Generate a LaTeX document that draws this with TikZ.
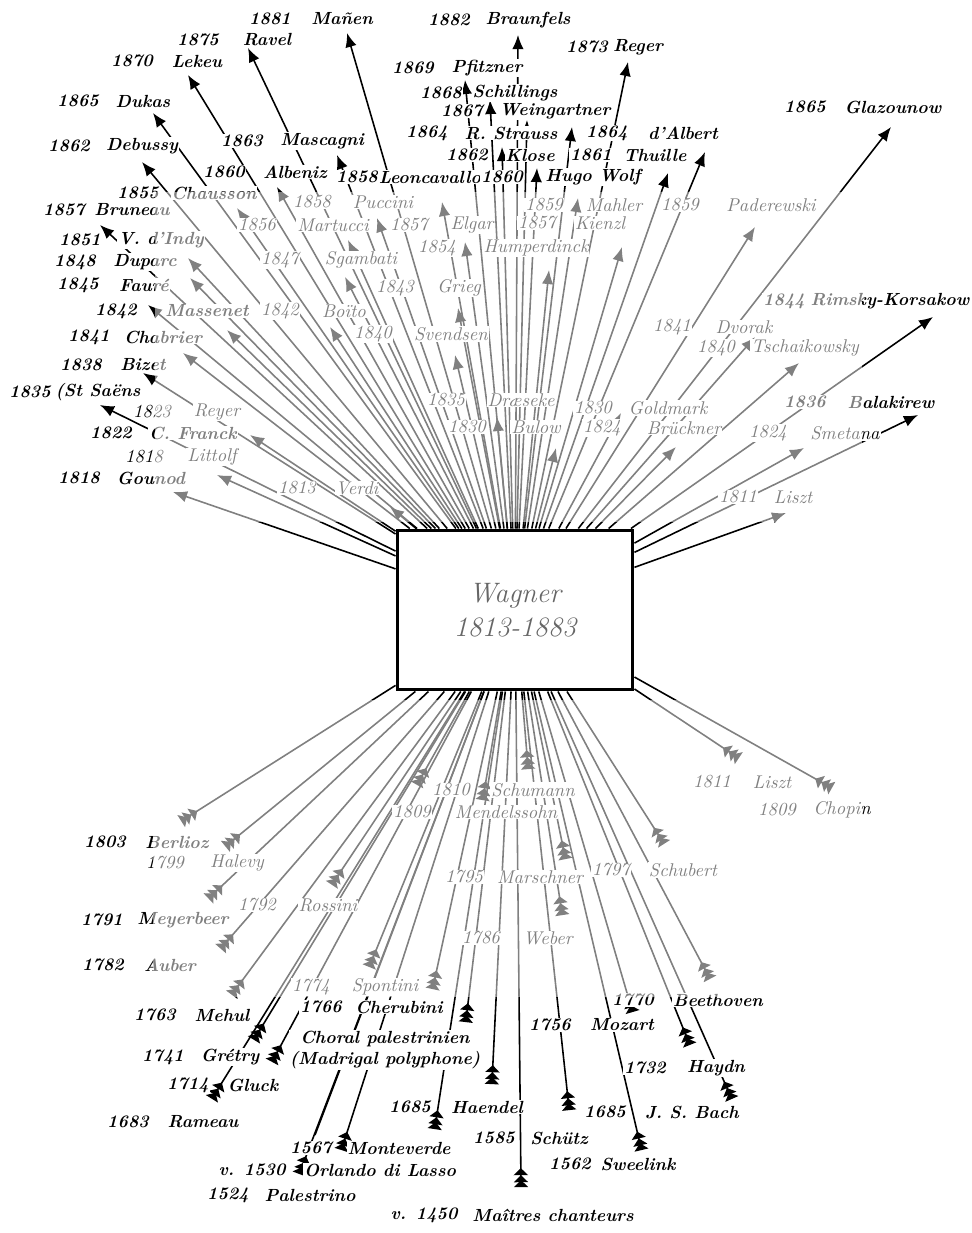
\documentclass[tikz,border=0pt]{standalone}
\usepackage{tikz}
\usetikzlibrary{arrows.meta,backgrounds}

\begin{document}
\begin{tikzpicture}[x=0.02cm,y=-0.02cm,
    lab/.style={fill=white,inner sep=0.5pt,font=\bfseries\itshape\fontsize{10}{12}\selectfont},
    flab/.style={fill=white,inner sep=0.5pt,font=\itshape\fontsize{10.5}{12}\selectfont},
    ray/.style={line width=0.9pt,-{Latex[length=8pt,width=6.5pt]}},
    root/.style={line width=0.9pt,{Triangle[reversed,length=4pt,width=8pt,sep=-1.2pt]Triangle[reversed,length=4pt,width=8pt,sep=-1.2pt]Triangle[reversed,length=4pt,width=8pt]}-},
    fade/.style={fill=white,opacity=0.5}]
  \useasboundingbox (0,0) rectangle (971,1233);

  \node[draw,line width=1.7pt,minimum width=4.72cm,minimum height=3.2cm,
        align=center,text=black!60,font=\itshape\fontsize{16}{19}\selectfont]
        (wagner) at (515,610) {Wagner\\1813-1883};

  % heirs, above the box
  \foreach \n/\a/\b/\y/\yr/\nm in {
      manen/270/342/19/1881/Mañen, ravel/198/267/40/1875/Ravel,
      lekeu/132/197/61/1870/Lekeu, dukas/78/143/101/1865/Dukas,
      debussy/69/142/146/1862/Debussy, mascagni/242/322/141/1863/Mascagni,
      albeniz/224/295/172/1860/Albeniz, leoncavallo/357/430/177/1858/Leoncavallo,
      chausson/138/214/193/1855/Chausson, bruneau/64/132/210/1857/Bruneau,
      vdindy/80/161/240/1851/V. d'Indy, duparc/75/145/262/1848/Duparc,
      faure/78/144/285/1845/Fauré, massenet/116/207/311/1842/Massenet,
      chabrier/89/163/337/1841/Chabrier, bizet/81/143/365/1838/Bizet,
      saens/30/98/392/1835/(St Saëns, franck/111/193/433/1822/C. Franck,
      gounod/79/151/478/1818/Gounod, braunfels/449/528/20/1882/Braunfels,
      reger/587/638/47/1873/Reger, pfitzner/413/487/68/1869/Pfitzner,
      schillings/441/515/93/1868/Schillings, weingartner/462/555/111/1867/Weingartner,
      strauss/427/511/133/1864/R. Strauss, dalbert/607/683/133/1864/d'Albert,
      klose/467/530/155/1862/Klose, thuille/591/655/155/1861/Thuille,
      hugowolf/502/593/177/1860/Hugo Wolf, glazounow/805/893/107/1865/Glazounow,
      rimsky/784/890/301/1844/Rimsky-Korsakow, balakirew/805/891/402/1836/Balakirew}{
    \node[lab] (\n-yr) at (\a,\y) {\yr};
    \node[lab] (\n) at (\b,\y) {\nm};}
  \foreach \n/\a/\b/\y/\yr/\nm in {
      puccini/312/383/202/1858/Puccini, martucci/257/333/225/1856/Martucci,
      elgar/409/472/225/1857/Elgar, humperdinck/437/536/248/1854/Humperdinck,
      sgambati/280/361/260/1847/Sgambati, grieg/395/459/288/1843/Grieg,
      boito/280/344/311/1842/Boïto, svendsen/373/451/334/1840/Svendsen,
      reyer/152/217/412/1823/Reyer, littolf/144/212/457/1818/Littolf,
      verdi/297/357/488/1813/Verdi, draeseke/446/521/400/1835/Dræseke,
      bulow/467/536/427/1830/Bulow, goldmark/593/668/408/1830/Goldmark,
      bruckner/602/684/428/1824/Brückner, dvorak/672/744/327/1841/Dvorak,
      tschaikowsky/716/805/348/1840/Tschaikowsky, smetana/768/845/433/1824/Smetana,
      liszt/738/793/497/1811/Liszt, paderewski/680/771/205/1859/Paderewski,
      mahler/544/614/205/1859/Mahler, kienzl/537/600/223/1857/Kienzl}{
    \node[flab] (\n-yr) at (\a,\y) {\yr};
    \node[flab] (\n) at (\b,\y) {\nm};}

  % sources, below the box
  \foreach \n/\a/\b/\y/\yr/\nm in {
      berlioz/105/177/842/1803/Berlioz, meyerbeer/102/183/920/1791/Meyerbeer,
      auber/103/170/965/1782/Auber, mehul/155/222/1015/1763/Mehul,
      gretry/163/230/1057/1741/Grétry, gluck/188/253/1085/1714/Gluck,
      rameau/128/203/1122/1683/Rameau, cherubini/321/399/1007/1766/Cherubini,
      monteverde/311/399/1148/1567/Monteverde, lasso/252/380/1170/v. 1530/Orlando di Lasso,
      palestrina/228/310/1195/1524/Palestrino, haendel/410/487/1107/1685/Haendel,
      schutz/494/559/1138/1585/Schütz, maitres/424/553/1215/v. 1450/Maîtres chanteurs,
      mozart/550/622/1025/1756/Mozart, beethoven/633/718/1000/1770/Beethoven,
      haydn/645/716/1068/1732/Haydn, bach/605/692/1112/1685/J. S. Bach,
      sweelink/570/638/1164/1562/Sweelink}{
    \node[lab] (\n-yr) at (\a,\y) {\yr};
    \node[lab] (\n) at (\b,\y) {\nm};}
  \foreach \n/\a/\b/\y/\yr/\nm in {
      halevy/165/237/863/1799/Halevy, rossini/257/328/905/1792/Rossini,
      spontini/311/385/987/1774/Spontini, schumann/451/533/790/1810/Schumann,
      mendelssohn/412/506/812/1809/Mendelssohn, marschner/464/540/877/1795/Marschner,
      schubert/611/683/870/1797/Schubert, weber/481/548/938/1786/Weber,
      liszt2/712/772/782/1811/Liszt, chopin/777/842/810/1809/Chopin}{
    \node[flab] (\n-yr) at (\a,\y) {\yr};
    \node[flab] (\n) at (\b,\y) {\nm};}
  \node[lab,align=center] (choral) at (385,1050) {Choral palestrinien\\(Madrigal polyphone)};

  \begin{scope}[on background layer]
    \foreach \t/\x/\y in {
        manen/347/33, ravel/248/48, lekeu/188/75, dukas/153/113, debussy/142/162,
        mascagni/337/155, albeniz/277/187, bruneau/100/225, chausson/237/208,
        puccini/377/218, leoncavallo/442/202, martucci/348/240, elgar/465/242,
        vdindy/188/258, duparc/190/278, faure/148/305, sgambati/345/277,
        boito/330/327, massenet/227/330, chabrier/183/353, grieg/458/308,
        bizet/143/373, saens/100/405, franck/250/435, littolf/217/475,
        gounod/173/492, verdi/390/507, svendsen/455/355, humperdinck/549/270,
        kienzl/622/247, draeseke/497/417, bulow/556/448, goldmark/621/413,
        bruckner/676/447, dvorak/755/337, tschaikowsky/799/363, rimsky/933/317,
        balakirew/918/415, smetana/804/448, liszt/786/513, paderewski/755/227,
        glazounow/891/127, mahler/578/198, hugowolf/537/168, klose/502/147,
        strauss/527/120, weingartner/490/100, pfitzner/465/80, braunfels/518/35,
        reger/628/62, dalbert/705/152, thuille/668/173, schillings/572/127}{
      \coordinate (t-\t) at (\x,\y);
      \draw[ray] (wagner) -- (t-\t);}
    \foreach \t/\x/\y in {
        berlioz/183/820, halevy/227/845, meyerbeer/210/897, auber/222/947,
        mehul/233/993, rossini/333/883, gretry/255/1038, gluck/273/1060,
        rameau/213/1097, spontini/433/987, cherubini/466/1020, monteverde/342/1148,
        lasso/300/1172, haendel/492/1082, choral/435/1127, maitres/521/1185,
        schutz/569/1108, sweelink/641/1148, bach/731/1097, haydn/689/1043,
        mozart/632/1010, beethoven/709/977, schubert/663/842, marschner/565/857,
        weber/562/913, schumann/528/767, mendelssohn/483/798, liszt/737/757,
        chopin/830/787, weber2/418/783, spontini2/370/965}{
      \coordinate (f-\t) at (\x,\y);
      \draw[root] (f-\t) -- (wagner);}
    \coordinate (c-choral) at (315,1135);
    \draw[line width=0.9pt] (c-choral) -- (wagner);
  \end{scope}

  % the faded bands of the print
  \fill[fade] (155,192) rectangle (862,522);
  \fill[fade] (153,700) rectangle (862,997);
\end{tikzpicture}
\end{document}
